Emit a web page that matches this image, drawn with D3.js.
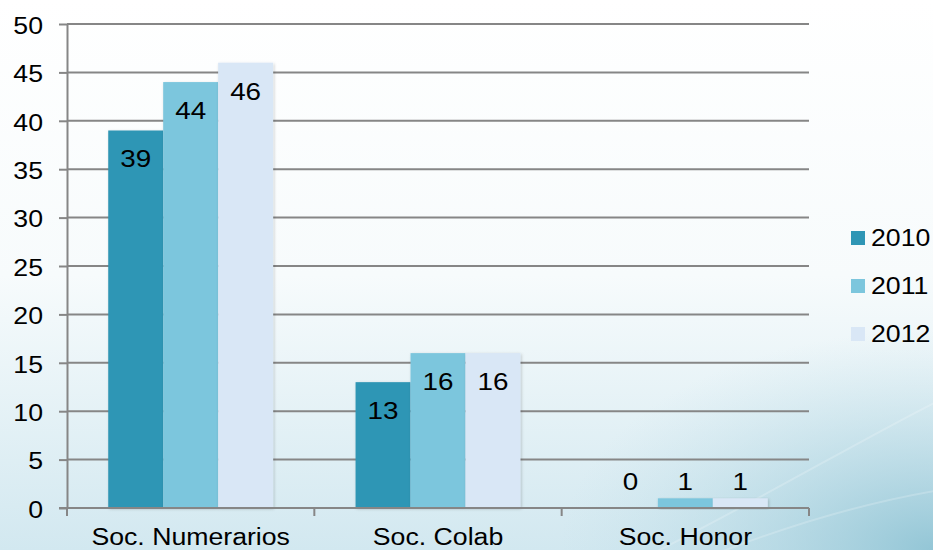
<!DOCTYPE html>
<html>
<head>
<meta charset="utf-8">
<script src="https://cdn.jsdelivr.net/npm/d3@7"></script>
<style>
  body { margin: 0; overflow: hidden; }
  svg { display: block; font-family: "Liberation Sans", Arial, sans-serif; }
</style>
</head>
<body>
<svg id="chart" width="933" height="550"></svg>
<script>
const categories = ['Soc. Numerarios', 'Soc. Colab', 'Soc. Honor'];
const years = ['2010', '2011', '2012'];
const values2010 = [39, 13, 0];
const values2011 = [44, 16, 1];
const values2012 = [46, 16, 1];
const yTicks = [0, 5, 10, 15, 20, 25, 30, 35, 40, 45, 50];
const colors = ['#2f96b5', '#7cc6dd', '#d9e7f6'];

const seriesValues = [values2010, values2011, values2012];
const data = categories.map((c, i) => ({
  category: c,
  values: years.map((yr, j) => ({ year: yr, value: seriesValues[j][i] }))
}));

const width = 933;
const height = 550;
const margin = { top: 24, right: 124, bottom: 42, left: 67 };
const stretch = 1.16; // text in the picture is wider than plain Arial

const svg = d3.select('#chart');

// background
const defs = svg.append('defs');
const bg = defs.append('linearGradient')
  .attr('id', 'bg')
  .attr('x1', '0').attr('y1', '0')
  .attr('x2', '0').attr('y2', '1');
bg.append('stop').attr('offset', '0').attr('stop-color', '#ffffff');
bg.append('stop').attr('offset', '0.5').attr('stop-color', '#f7fbfc');
bg.append('stop').attr('offset', '1').attr('stop-color', '#d2e8f0');
const bg2 = defs.append('radialGradient')
  .attr('id', 'bg2')
  .attr('cx', '1').attr('cy', '1').attr('r', '0.4');
bg2.append('stop').attr('offset', '0').attr('stop-color', '#8cc2d3').attr('stop-opacity', 0.9);
bg2.append('stop').attr('offset', '1').attr('stop-color', '#bcdce7').attr('stop-opacity', 0);

const shadow = defs.append('filter').attr('id', 'shadow')
  .attr('x', '-10%').attr('y', '-10%').attr('width', '130%').attr('height', '130%');
shadow.append('feDropShadow')
  .attr('dx', 1).attr('dy', 1).attr('stdDeviation', 1.5)
  .attr('flood-color', '#000').attr('flood-opacity', 0.2);

svg.append('rect').attr('width', width).attr('height', height).attr('fill', 'url(#bg)');
svg.append('rect').attr('width', width).attr('height', height).attr('fill', 'url(#bg2)');

// soft swooshes bottom right
svg.append('path')
  .attr('d', 'M640,560 C760,500 860,440 940,400')
  .attr('fill', 'none').attr('stroke', '#ffffff').attr('stroke-opacity', 0.2).attr('stroke-width', 2);
svg.append('path')
  .attr('d', 'M700,560 C800,520 880,500 940,490')
  .attr('fill', 'none').attr('stroke', '#ffffff').attr('stroke-opacity', 0.2).attr('stroke-width', 2);

const plotW = width - margin.left - margin.right;
const plotH = height - margin.top - margin.bottom;

const x0 = d3.scaleBand()
  .domain(categories)
  .range([0, plotW])
  .paddingInner(0)
  .paddingOuter(0);

const x1 = d3.scaleBand()
  .domain(years)
  .range([x0.bandwidth() * 0.1667, x0.bandwidth() * 0.8333]);

const y = d3.scaleLinear()
  .domain([0, 50])
  .range([plotH, 0]);

const color = d3.scaleOrdinal().domain(years).range(colors);

// text helper: place and stretch horizontally
function place(sel, xf, yf) {
  sel.attr('transform', (d, i) => `translate(${xf(d, i)}, ${yf(d, i)}) scale(${stretch}, 1)`);
}

const g = svg.append('g')
  .attr('transform', `translate(${margin.left}, ${margin.top})`);

// grid lines
g.append('g')
  .selectAll('line')
  .data(yTicks.filter(t => t > 0))
  .join('line')
  .attr('x1', 0)
  .attr('x2', plotW)
  .attr('y1', d => y(d))
  .attr('y2', d => y(d))
  .attr('stroke', '#868686')
  .attr('stroke-width', 2);

// y axis
const yAxis = g.append('g')
  .call(d3.axisLeft(y).tickValues(yTicks).tickSize(8).tickSizeOuter(0));
yAxis.select('.domain').attr('stroke', '#868686').attr('stroke-width', 2);
yAxis.selectAll('.tick line').attr('stroke', '#868686').attr('stroke-width', 2);
yAxis.selectAll('.tick text')
  .attr('x', null).attr('dy', null)
  .attr('fill', '#000')
  .attr('text-anchor', 'end')
  .attr('dominant-baseline', 'central')
  .attr('transform', `translate(-24, 1) scale(${stretch}, 1)`)
  .style('font-size', '23px')
  .style('font-family', '"Liberation Sans", Arial, sans-serif');

// bars
const groups = g.append('g')
  .selectAll('g')
  .data(data)
  .join('g')
  .attr('transform', d => `translate(${x0(d.category)}, 0)`);

groups.selectAll('rect')
  .data(d => d.values)
  .join('rect')
  .attr('x', d => x1(d.year))
  .attr('y', d => y(d.value))
  .attr('width', x1.bandwidth())
  .attr('height', d => plotH - y(d.value))
  .attr('fill', d => color(d.year))
  .attr('filter', 'url(#shadow)');

groups.selectAll('text')
  .data(d => d.values)
  .join('text')
  .attr('text-anchor', 'middle')
  .attr('fill', '#000')
  .style('font-size', '24px')
  .text(d => d.value)
  .call(place,
    d => x1(d.year) + x1.bandwidth() / 2,
    d => d.value < 3 ? y(0) - 18 : y(d.value) + 37);

// x axis
const xAxisG = g.append('g')
  .attr('transform', `translate(0, ${plotH})`);
xAxisG.append('line')
  .attr('x1', -8).attr('x2', plotW)
  .attr('stroke', '#868686').attr('stroke-width', 2);
xAxisG.selectAll('line.tick')
  .data(categories.concat(['end']))
  .join('line')
  .attr('class', 'tick')
  .attr('x1', (d, i) => i * x0.step())
  .attr('x2', (d, i) => i * x0.step())
  .attr('y1', 0).attr('y2', 8)
  .attr('stroke', '#868686').attr('stroke-width', 2);
xAxisG.selectAll('text')
  .data(categories)
  .join('text')
  .attr('text-anchor', 'middle')
  .attr('fill', '#000')
  .style('font-size', '23px')
  .text(d => d)
  .call(place, d => x0(d) + x0.bandwidth() / 2, () => 37);

// legend
const legend = svg.append('g')
  .attr('transform', 'translate(851, 231)');
const items = legend.selectAll('g')
  .data(years)
  .join('g')
  .attr('transform', (d, i) => `translate(0, ${i * 48})`);
items.append('rect')
  .attr('width', 14).attr('height', 14)
  .attr('fill', d => color(d));
items.append('text')
  .attr('fill', '#000')
  .style('font-size', '23px')
  .text(d => d)
  .call(place, () => 20, () => 15);
</script>
</body>
</html>
